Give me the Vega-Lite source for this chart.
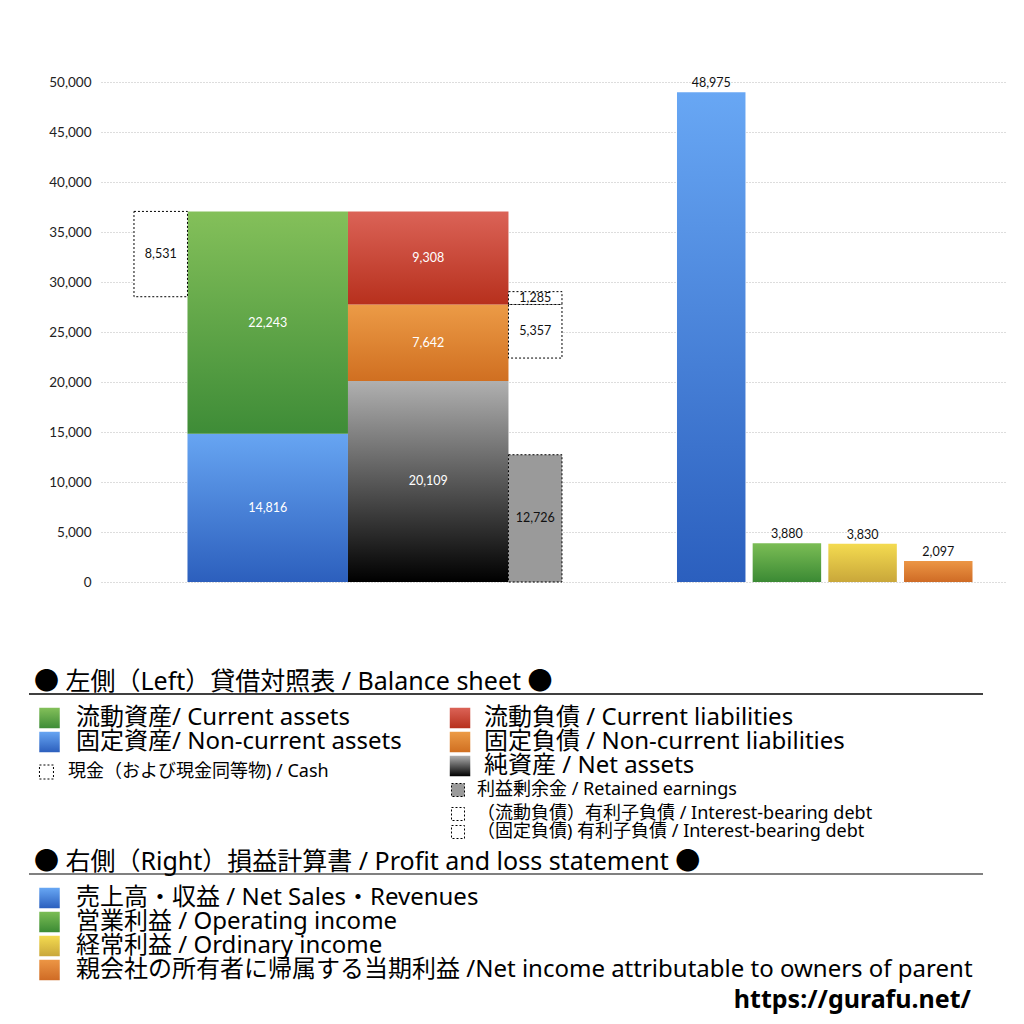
{
  "$schema": "https://vega.github.io/schema/vega-lite/v6.json",
  "background": "white",
  "padding": {"left": 28, "top": 75, "right": 10, "bottom": 12},
  "spacing": 81,
  "datasets": {
    "balance": [
      {"item": "cash", "col": "cash", "lo": 28528, "hi": 37059, "v": 8531},
      {"item": "nca", "col": "assets", "lo": 0, "hi": 14816, "v": 14816},
      {"item": "ca", "col": "assets", "lo": 14816, "hi": 37059, "v": 22243},
      {"item": "na", "col": "liab", "lo": 0, "hi": 20109, "v": 20109},
      {"item": "ncl", "col": "liab", "lo": 20109, "hi": 27751, "v": 7642},
      {"item": "cl", "col": "liab", "lo": 27751, "hi": 37059, "v": 9308},
      {"item": "re", "col": "side", "lo": 0, "hi": 12726, "v": 12726},
      {"item": "d2", "col": "side", "lo": 22394, "hi": 27751, "v": 5357},
      {"item": "d1", "col": "side", "lo": 27751, "hi": 29036, "v": 1285}
    ],
    "pl": [
      {"item": "sales", "v": 48975},
      {"item": "op", "v": 3880},
      {"item": "ord", "v": 3830},
      {"item": "ni", "v": 2097}
    ],
    "legend": [
      {"group": "head", "slot": "h1", "label": "● 左側（Left）貸借対照表 / Balance sheet ●"},
      {"group": "head", "slot": "h2", "label": "● 右側（Right）損益計算書 / Profit and loss statement ●"},
      {"group": "bigL", "slot": "r1", "item": "ca", "label": "流動資産/ Current assets"},
      {"group": "bigL", "slot": "r2", "item": "nca", "label": "固定資産/ Non-current assets"},
      {"group": "bigL", "slot": "p1", "item": "sales", "label": "売上高・収益 / Net Sales・Revenues"},
      {"group": "bigL", "slot": "p2", "item": "op", "label": "営業利益 / Operating income"},
      {"group": "bigL", "slot": "p3", "item": "ord", "label": "経常利益 / Ordinary income"},
      {"group": "bigL", "slot": "p4", "item": "ni", "label": "親会社の所有者に帰属する当期利益 /Net income attributable to owners of parent"},
      {"group": "bigR", "slot": "r1", "item": "cl", "label": "流動負債 /  Current liabilities"},
      {"group": "bigR", "slot": "r2", "item": "ncl", "label": "固定負債 / Non-current liabilities"},
      {"group": "bigR", "slot": "r3", "item": "na", "label": "純資産 / Net assets"},
      {"group": "smallL", "slot": "r3s", "item": "cash", "label": "現金（および現金同等物) / Cash"},
      {"group": "smallR", "slot": "r4", "item": "re", "label": "利益剰余金 / Retained earnings"},
      {"group": "smallR", "slot": "r5", "item": "d1", "label": "（流動負債）有利子負債 / Interest-bearing debt"},
      {"group": "smallR", "slot": "r6", "item": "d2", "label": "（固定負債) 有利子負債 / Interest-bearing debt"},
      {"group": "url", "slot": "url", "label": "https://gurafu.net/"},
      {"group": "rule1", "slot": "line1"},
      {"group": "rule2", "slot": "line2"}
    ]
  },
  "vconcat": [
    {
      "width": 905,
      "height": 500,
      "resolve": {"scale": {"x": "independent"}},
      "layer": [
        {
          "data": {"name": "balance"},
          "transform": [{"filter": "datum.col === 'assets' || datum.col === 'liab'"}],
          "mark": {"type": "bar", "width": {"band": 3}},
          "encoding": {
            "x": {"field": "col", "type": "nominal", "axis": null, "scale": {"type": "band", "domain": ["cash", "a1", "assets", "a3", "l1", "liab", "l3", "side", "_s1", "_s2", "_s3", "_s4", "_s5", "_s6", "_s7", "_s8"], "paddingInner": 0, "paddingOuter": 0.458, "align": 0.673}},
            "y": {"field": "lo", "type": "quantitative", "title": null, "scale": {"domain": [0, 50000], "nice": false}},
            "y2": {"field": "hi"},
            "fill": {
              "condition": [
                {"test": "datum.item === 'ca'", "value": {"gradient": "linear", "x1": 0, "y1": 0, "x2": 0, "y2": 1, "stops": [{"offset": 0, "color": "#84c05a"}, {"offset": 1, "color": "#3e8c37"}]}},
                {"test": "datum.item === 'nca'", "value": {"gradient": "linear", "x1": 0, "y1": 0, "x2": 0, "y2": 1, "stops": [{"offset": 0, "color": "#67a5f2"}, {"offset": 1, "color": "#2c5fbd"}]}},
                {"test": "datum.item === 'cl'", "value": {"gradient": "linear", "x1": 0, "y1": 0, "x2": 0, "y2": 1, "stops": [{"offset": 0, "color": "#db6357"}, {"offset": 1, "color": "#b7301d"}]}},
                {"test": "datum.item === 'ncl'", "value": {"gradient": "linear", "x1": 0, "y1": 0, "x2": 0, "y2": 1, "stops": [{"offset": 0, "color": "#ec9b46"}, {"offset": 1, "color": "#d06f21"}]}},
                {"test": "datum.item === 'na'", "value": {"gradient": "linear", "x1": 0, "y1": 0, "x2": 0, "y2": 1, "stops": [{"offset": 0, "color": "#b0b0b0"}, {"offset": 1, "color": "#000000"}]}}
              ],
              "value": "#999999"
            }
          }
        },
        {
          "data": {"name": "balance"},
          "transform": [{"filter": "datum.col === 'cash' || datum.col === 'side'"}],
          "mark": {"type": "bar", "stroke": "#000000", "strokeWidth": 1, "strokeDash": [2, 2]},
          "encoding": {
            "x": {"field": "col", "type": "nominal", "axis": null, "scale": {"type": "band", "domain": ["cash", "a1", "assets", "a3", "l1", "liab", "l3", "side", "_s1", "_s2", "_s3", "_s4", "_s5", "_s6", "_s7", "_s8"], "paddingInner": 0, "paddingOuter": 0.458, "align": 0.673}},
            "y": {"field": "lo", "type": "quantitative", "title": null},
            "y2": {"field": "hi"},
            "fill": {"condition": {"test": "datum.item === 're'", "value": "#9a9a9a"}, "value": "#ffffff"}
          }
        },
        {
          "data": {"name": "balance"},
          "transform": [
            {"filter": "datum.col === 'assets' || datum.col === 'liab'"},
            {"fold": ["lo", "hi"], "as": ["edge", "val"]},
            {"aggregate": [{"op": "mean", "field": "val", "as": "mid"}], "groupby": ["item", "col", "v"]}
          ],
          "mark": {"type": "text", "font": "Lato", "fontSize": 12.5, "color": "#ffffff", "baseline": "middle"},
          "encoding": {
            "x": {"field": "col", "type": "nominal", "axis": null, "scale": {"type": "band", "domain": ["cash", "a1", "assets", "a3", "l1", "liab", "l3", "side", "_s1", "_s2", "_s3", "_s4", "_s5", "_s6", "_s7", "_s8"], "paddingInner": 0, "paddingOuter": 0.458, "align": 0.673}},
            "y": {"field": "mid", "type": "quantitative", "title": null},
            "text": {"field": "v", "type": "quantitative", "format": ","}
          }
        },
        {
          "data": {"name": "balance"},
          "transform": [
            {"filter": "datum.col === 'cash' || datum.col === 'side'"},
            {"fold": ["lo", "hi"], "as": ["edge", "val"]},
            {"aggregate": [{"op": "mean", "field": "val", "as": "mid"}], "groupby": ["item", "col", "v"]}
          ],
          "mark": {"type": "text", "font": "Lato", "fontSize": 12.5, "color": "#111111", "baseline": "middle"},
          "encoding": {
            "x": {"field": "col", "type": "nominal", "axis": null, "scale": {"type": "band", "domain": ["cash", "a1", "assets", "a3", "l1", "liab", "l3", "side", "_s1", "_s2", "_s3", "_s4", "_s5", "_s6", "_s7", "_s8"], "paddingInner": 0, "paddingOuter": 0.458, "align": 0.673}},
            "y": {"field": "mid", "type": "quantitative", "title": null},
            "text": {"field": "v", "type": "quantitative", "format": ","}
          }
        },
        {
          "data": {"name": "pl"},
          "mark": {"type": "bar"},
          "encoding": {
            "x": {"field": "item", "type": "nominal", "axis": null, "sort": null, "scale": {"type": "band", "domain": ["_p1", "_p2", "_p3", "_p4", "_p5", "_p6", "_p7", "sales", "op", "ord", "ni"], "paddingInner": 0.095, "paddingOuter": 0.527, "align": 0.58}},
            "y": {"field": "v", "type": "quantitative", "title": null},
            "fill": {
              "condition": [
                {"test": "datum.item === 'sales'", "value": {"gradient": "linear", "x1": 0, "y1": 0, "x2": 0, "y2": 1, "stops": [{"offset": 0, "color": "#68a7f4"}, {"offset": 1, "color": "#2b5fbe"}]}},
                {"test": "datum.item === 'op'", "value": {"gradient": "linear", "x1": 0, "y1": 0, "x2": 0, "y2": 1, "stops": [{"offset": 0, "color": "#7bbd55"}, {"offset": 1, "color": "#3b8a34"}]}},
                {"test": "datum.item === 'ord'", "value": {"gradient": "linear", "x1": 0, "y1": 0, "x2": 0, "y2": 1, "stops": [{"offset": 0, "color": "#f4db50"}, {"offset": 1, "color": "#c9a73a"}]}},
                {"test": "datum.item === 'ni'", "value": {"gradient": "linear", "x1": 0, "y1": 0, "x2": 0, "y2": 1, "stops": [{"offset": 0, "color": "#ec9645"}, {"offset": 1, "color": "#cf6b25"}]}}
              ],
              "value": "#999999"
            }
          }
        },
        {
          "data": {"name": "pl"},
          "mark": {"type": "text", "font": "Lato", "fontSize": 12.5, "color": "#111111", "baseline": "bottom", "dy": -2},
          "encoding": {
            "x": {"field": "item", "type": "nominal", "axis": null, "sort": null, "scale": {"type": "band", "domain": ["_p1", "_p2", "_p3", "_p4", "_p5", "_p6", "_p7", "sales", "op", "ord", "ni"], "paddingInner": 0.095, "paddingOuter": 0.527, "align": 0.58}},
            "y": {"field": "v", "type": "quantitative", "title": null},
            "text": {"field": "v", "type": "quantitative", "format": ","}
          }
        }
      ]
    },
    {
      "width": 882,
      "height": 318,
      "data": {"name": "legend"},
      "encoding": {
        "y": {"field": "slot", "type": "nominal", "axis": null, "scale": {"type": "point", "padding": 0, "domain": ["h1", "_1", "line1", "_3", "_4", "_5", "r1", "_7", "_8", "_9", "r2", "_11", "_12", "_13", "r3", "r3s", "_16", "_17", "r4", "_19", "_20", "_21", "r5", "_23", "_24", "r6", "_26", "_27", "_28", "_29", "h2", "_31", "line2", "_33", "_34", "_35", "p1", "_37", "_38", "_39", "p2", "_41", "_42", "_43", "p3", "_45", "_46", "_47", "p4", "_49", "_50", "_51", "_52", "url"]}}
      },
      "layer": [
        {
          "transform": [{"filter": "datum.group === 'rule1'"}],
          "mark": {"type": "rule", "color": "#000000", "strokeWidth": 1.5},
          "encoding": {
            "x": {"datum": 0, "type": "quantitative", "axis": null, "scale": {"domain": [7.547, 100], "nice": false, "zero": false}},
            "x2": {"datum": 100}
          }
        },
        {
          "transform": [{"filter": "datum.group === 'rule2'"}],
          "mark": {"type": "rule", "color": "#808080", "strokeWidth": 2},
          "encoding": {
            "x": {"datum": 0, "type": "quantitative", "axis": null},
            "x2": {"datum": 100}
          }
        },
        {
          "transform": [{"filter": "datum.group === 'head'"}],
          "mark": {"type": "text", "align": "left", "baseline": "middle", "fontSize": 25, "font": "Noto Sans, Noto Sans CJK JP", "color": "#000000"},
          "encoding": {
            "x": {"datum": 0.52, "type": "quantitative", "axis": null},
            "text": {"field": "label"}
          }
        },
        {
          "transform": [{"filter": "datum.group === 'bigL'"}],
          "mark": {"type": "square", "size": 420, "opacity": 1, "strokeWidth": 0},
          "encoding": {
            "x": {"datum": 2.15, "type": "quantitative", "axis": null},
            "fill": {
              "condition": [
                {"test": "datum.item === 'ca'", "value": {"gradient": "linear", "x1": 0, "y1": 0, "x2": 0, "y2": 1, "stops": [{"offset": 0, "color": "#84c05a"}, {"offset": 1, "color": "#3e8c37"}]}},
                {"test": "datum.item === 'nca'", "value": {"gradient": "linear", "x1": 0, "y1": 0, "x2": 0, "y2": 1, "stops": [{"offset": 0, "color": "#67a5f2"}, {"offset": 1, "color": "#2c5fbd"}]}},
                {"test": "datum.item === 'sales'", "value": {"gradient": "linear", "x1": 0, "y1": 0, "x2": 0, "y2": 1, "stops": [{"offset": 0, "color": "#68a7f4"}, {"offset": 1, "color": "#2b5fbe"}]}},
                {"test": "datum.item === 'op'", "value": {"gradient": "linear", "x1": 0, "y1": 0, "x2": 0, "y2": 1, "stops": [{"offset": 0, "color": "#7bbd55"}, {"offset": 1, "color": "#3b8a34"}]}},
                {"test": "datum.item === 'ord'", "value": {"gradient": "linear", "x1": 0, "y1": 0, "x2": 0, "y2": 1, "stops": [{"offset": 0, "color": "#f4db50"}, {"offset": 1, "color": "#c9a73a"}]}},
                {"test": "datum.item === 'ni'", "value": {"gradient": "linear", "x1": 0, "y1": 0, "x2": 0, "y2": 1, "stops": [{"offset": 0, "color": "#ec9645"}, {"offset": 1, "color": "#cf6b25"}]}}
              ],
              "value": "#999999"
            }
          }
        },
        {
          "transform": [{"filter": "datum.group === 'bigR'"}],
          "mark": {"type": "square", "size": 420, "opacity": 1, "strokeWidth": 0},
          "encoding": {
            "x": {"datum": 45.18, "type": "quantitative", "axis": null},
            "fill": {
              "condition": [
                {"test": "datum.item === 'cl'", "value": {"gradient": "linear", "x1": 0, "y1": 0, "x2": 0, "y2": 1, "stops": [{"offset": 0, "color": "#db6357"}, {"offset": 1, "color": "#b7301d"}]}},
                {"test": "datum.item === 'ncl'", "value": {"gradient": "linear", "x1": 0, "y1": 0, "x2": 0, "y2": 1, "stops": [{"offset": 0, "color": "#ec9b46"}, {"offset": 1, "color": "#d06f21"}]}},
                {"test": "datum.item === 'na'", "value": {"gradient": "linear", "x1": 0, "y1": 0, "x2": 0, "y2": 1, "stops": [{"offset": 0, "color": "#b0b0b0"}, {"offset": 1, "color": "#000000"}]}}
              ],
              "value": "#999999"
            }
          }
        },
        {
          "transform": [{"filter": "datum.group === 'bigL'"}],
          "mark": {"type": "text", "align": "left", "baseline": "middle", "fontSize": 24, "font": "Noto Sans, Noto Sans CJK JP", "color": "#000000"},
          "encoding": {
            "x": {"datum": 4.93, "type": "quantitative", "axis": null},
            "text": {"field": "label"}
          }
        },
        {
          "transform": [{"filter": "datum.group === 'bigR'"}],
          "mark": {"type": "text", "align": "left", "baseline": "middle", "fontSize": 24, "font": "Noto Sans, Noto Sans CJK JP", "color": "#000000"},
          "encoding": {
            "x": {"datum": 47.7, "type": "quantitative", "axis": null},
            "text": {"field": "label"}
          }
        },
        {
          "transform": [{"filter": "datum.group === 'smallL'"}],
          "mark": {"type": "square", "size": 196, "opacity": 1, "stroke": "#000000", "strokeWidth": 1, "strokeDash": [2, 2], "fill": "#ffffff"},
          "encoding": {
            "x": {"datum": 1.83, "type": "quantitative", "axis": null}
          }
        },
        {
          "transform": [{"filter": "datum.group === 'smallR'"}],
          "mark": {"type": "square", "size": 169, "opacity": 1, "stroke": "#000000", "strokeWidth": 1, "strokeDash": [2, 2]},
          "encoding": {
            "x": {"datum": 44.97, "type": "quantitative", "axis": null},
            "fill": {"condition": {"test": "datum.item === 're'", "value": "#9a9a9a"}, "value": "#ffffff"}
          }
        },
        {
          "transform": [{"filter": "datum.group === 'smallL'"}],
          "mark": {"type": "text", "align": "left", "baseline": "middle", "fontSize": 18, "font": "Noto Sans, Noto Sans CJK JP", "color": "#000000"},
          "encoding": {
            "x": {"datum": 4.09, "type": "quantitative", "axis": null},
            "text": {"field": "label"}
          }
        },
        {
          "transform": [{"filter": "datum.group === 'smallR'"}],
          "mark": {"type": "text", "align": "left", "baseline": "middle", "fontSize": 18, "font": "Noto Sans, Noto Sans CJK JP", "color": "#000000"},
          "encoding": {
            "x": {"datum": 46.96, "type": "quantitative", "axis": null},
            "text": {"field": "label"}
          }
        },
        {
          "transform": [{"filter": "datum.group === 'url'"}],
          "mark": {"type": "text", "align": "right", "baseline": "middle", "fontSize": 25, "fontWeight": "bold", "font": "Noto Sans", "color": "#000000"},
          "encoding": {
            "x": {"datum": 98.74, "type": "quantitative", "axis": null},
            "text": {"field": "label"}
          }
        }
      ]
    }
  ],
  "config": {
    "view": {"stroke": null},
    "axisY": {
      "tickCount": 10,
      "format": ",d",
      "grid": true,
      "gridColor": "#bbbbbb",
      "gridDash": [1, 2],
      "gridWidth": 1,
      "domain": false,
      "ticks": false,
      "labelPadding": 10,
      "minExtent": 72,
      "maxExtent": 72,
      "labelFont": "Lato",
      "labelFontSize": 13.5,
      "labelColor": "#222222"
    }
  }
}
